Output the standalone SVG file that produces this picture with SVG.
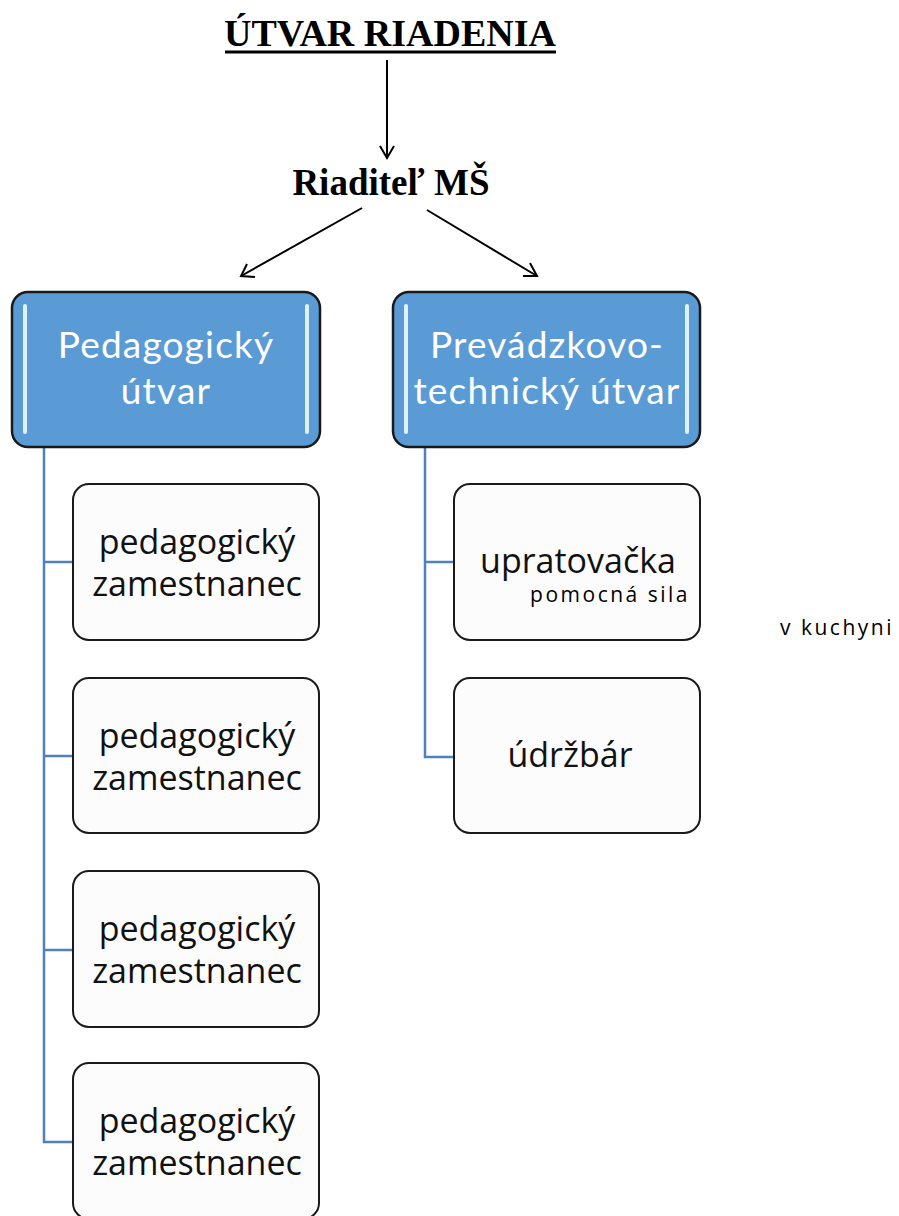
<svg xmlns="http://www.w3.org/2000/svg" width="899" height="1216" viewBox="0 0 899 1216">
<defs>
<style>
.title{font-family:"Liberation Serif",serif;font-weight:bold;fill:#000}
.arrow{stroke:#000;stroke-width:2;fill:none}
.head{stroke:#000;stroke-width:2;fill:none}
.blue{fill:#5b9bd5;stroke:#1a1a1a;stroke-width:2.5}
.shine{stroke:#dff1ff;stroke-width:4;stroke-linecap:round}
.btxt{font-family:Lato,"Open Sans",sans-serif;font-size:37px;letter-spacing:1.2px;fill:#fff;text-anchor:middle}
.child{fill:#fcfcfc;stroke:#1a1a1a;stroke-width:2}
.ctxt{font-family:"Open Sans","Noto Sans",sans-serif;font-size:34px;fill:#111;text-anchor:middle}
.small{font-family:"Open Sans","Noto Sans",sans-serif;font-size:21px;letter-spacing:2.5px;fill:#000}
.conn{stroke:#4f81bd;stroke-width:2.5;fill:none}
</style>
</defs>
<g id="title">
<text class="title" x="390" y="46" font-size="38" text-anchor="middle">ÚTVAR RIADENIA</text>
<line x1="225" y1="52" x2="556" y2="52" stroke="#000" stroke-width="3"/>
</g>
<g id="riaditel">
<text class="title" x="391" y="195" font-size="37" text-anchor="middle">Riaditeľ MŠ</text>
</g>
<g id="connectors">
<line class="arrow" x1="387" y1="60" x2="387" y2="158"/>
<polyline class="head" points="380,146 387,158 394,146"/>
<line class="arrow" x1="362" y1="208" x2="241" y2="276"/>
<polyline class="head" points="247,264 241,276 255,277"/>
<line class="arrow" x1="427" y1="210" x2="537" y2="276"/>
<polyline class="head" points="523,276 537,276 530,263"/>
<polyline class="conn" points="44,447 44,1142 73,1142"/>
<line class="conn" x1="44" y1="562" x2="73" y2="562"/>
<line class="conn" x1="44" y1="756" x2="73" y2="756"/>
<line class="conn" x1="44" y1="950" x2="73" y2="950"/>
<polyline class="conn" points="425,447 425,757 454,757"/>
<line class="conn" x1="425" y1="562" x2="454" y2="562"/>
</g>
<g id="pedagogicky-utvar">
<rect class="blue" x="12" y="292" width="308" height="155" rx="16"/>
<line class="shine" x1="25" y1="306" x2="25" y2="432"/>
<line class="shine" x1="307" y1="306" x2="307" y2="432"/>
<text class="btxt" x="166" y="358">Pedagogický</text>
<text class="btxt" x="166" y="404">útvar</text>
</g>
<g id="prevadzkovo-technicky-utvar">
<rect class="blue" x="393" y="292" width="307" height="155" rx="16"/>
<line class="shine" x1="406" y1="306" x2="406" y2="432"/>
<line class="shine" x1="687" y1="306" x2="687" y2="432"/>
<text class="btxt" x="547" y="358">Prevádzkovo-</text>
<text class="btxt" x="547" y="404">technický útvar</text>
</g>
<g id="ped1">
<rect class="child" x="73" y="484" width="246" height="156" rx="16"/>
<text class="ctxt" x="197" y="554">pedagogický</text>
<text class="ctxt" x="197" y="596">zamestnanec</text>
</g>
<g id="ped2">
<rect class="child" x="73" y="678" width="246" height="155" rx="16"/>
<text class="ctxt" x="197" y="748">pedagogický</text>
<text class="ctxt" x="197" y="790">zamestnanec</text>
</g>
<g id="ped3">
<rect class="child" x="73" y="871" width="246" height="156" rx="16"/>
<text class="ctxt" x="197" y="941">pedagogický</text>
<text class="ctxt" x="197" y="983">zamestnanec</text>
</g>
<g id="ped4">
<rect class="child" x="73" y="1063" width="246" height="156" rx="16"/>
<text class="ctxt" x="197" y="1133">pedagogický</text>
<text class="ctxt" x="197" y="1175">zamestnanec</text>
</g>
<g id="upratovacka">
<rect class="child" x="454" y="484" width="246" height="156" rx="16"/>
<text class="ctxt" x="578" y="573">upratovačka</text>
<text class="small" x="690" y="602" text-anchor="end">pomocná sila</text>
</g>
<g id="udrzbar">
<rect class="child" x="454" y="678" width="246" height="155" rx="16"/>
<text class="ctxt" x="570" y="767">údržbár</text>
</g>
<g id="kuchyna">
<text class="small" x="780" y="635">v kuchyni</text>
</g>
</svg>
